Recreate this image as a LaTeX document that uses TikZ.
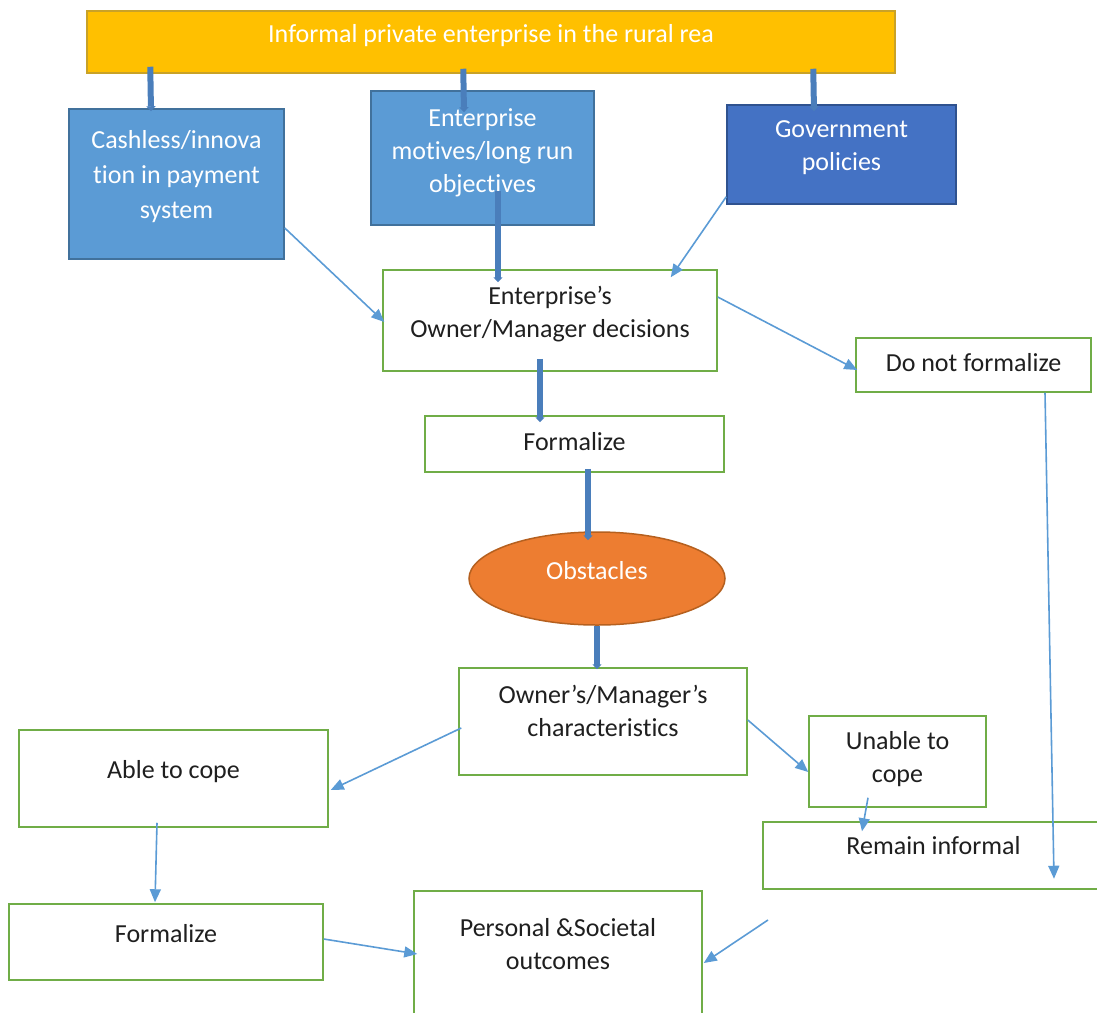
\documentclass[tikz,border=0pt]{standalone}
\usepackage{fontspec}
\setmainfont{Carlito}[Ligatures=NoCommon]
\usetikzlibrary{arrows.meta,shapes.geometric}

\definecolor{gold}{HTML}{FFC000}
\definecolor{goldline}{HTML}{C9A227}
\definecolor{skyblue}{HTML}{5B9BD5}
\definecolor{skyline}{HTML}{41719C}
\definecolor{royal}{HTML}{4472C4}
\definecolor{royalline}{HTML}{2F528F}
\definecolor{leaf}{HTML}{70AD47}
\definecolor{pumpkin}{HTML}{ED7D31}
\definecolor{pumpkinline}{HTML}{B5601F}
\definecolor{barblue}{HTML}{4A7EBB}
\definecolor{ink}{HTML}{1F1F1F}

\tikzset{
  greenbox/.style={draw=leaf, line width=1.5pt, fill=white, text=ink, align=center, inner sep=0pt},
  bluebox/.style={draw=skyline, line width=1.5pt, fill=skyblue, text=white, align=center, inner sep=0pt},
  lift/.style={text depth=#1},
  bar/.style={barblue, line width=6pt, -{Triangle[length=5pt,width=9pt]}},
  link/.style={skyblue, line width=1.6pt, -{Triangle[length=13pt,width=11pt]}},
}

\begin{document}
\begin{tikzpicture}[x=1pt, y=-1pt, font=\fontsize{26}{33}\selectfont]
\useasboundingbox (0,0) rectangle (1097,1012);

% top row
\node[draw=goldline, line width=1.5pt, fill=gold, text=white, inner sep=0pt, lift=17pt,
  minimum width=808pt, minimum height=62pt] (rural) at (491,42) {Informal private enterprise in the rural rea};

\node[bluebox, lift=19pt, minimum width=215pt, minimum height=150pt] (cashless) at (176.5,184) {Cashless/innova\\[2pt]tion in payment\\[2pt]system};
\node[bluebox, lift=15pt, minimum width=223pt, minimum height=134pt] (motives) at (482.5,158) {Enterprise\\motives/long run\\objectives};
\node[bluebox, lift=17pt, draw=royalline, fill=royal, minimum width=229pt, minimum height=99pt] (govt) at (841.5,154.5) {Government\\policies};

% decisions
\node[greenbox, lift=18pt, minimum width=334pt, minimum height=101pt] (decide) at (550,320.5) {Enterprise’s\\Owner/Manager decisions};
\node[greenbox, lift=6pt, minimum width=235pt, minimum height=54pt] (noformal) at (973.5,365) {Do not formalize};
\node[greenbox, lift=6pt, minimum width=299pt, minimum height=56pt] (formal) at (574.5,444) {Formalize};

\node[ellipse, draw=pumpkinline, line width=1.5pt, fill=pumpkin, text=white, inner sep=0pt, lift=16pt,
  minimum width=256pt, minimum height=93pt] (obstacles) at (597,578.5) {Obstacles};

% coping
\node[greenbox, lift=21pt, minimum width=288pt, minimum height=107pt] (traits) at (603,721.5) {Owner’s/Manager’s\\characteristics};
\node[greenbox, lift=19pt, minimum width=309pt, minimum height=97pt] (cope) at (173.5,778.5) {Able to cope};
\node[greenbox, lift=10pt, minimum width=177pt, minimum height=91pt] (nocope) at (897.5,761.5) {Unable to\\cope};
\node[greenbox, lift=20pt, minimum width=341pt, minimum height=67pt] (informal) at (933.5,855.5) {Remain informal};
\node[greenbox, lift=18pt, minimum width=314pt, minimum height=76pt] (formal2) at (166,942) {Formalize};
\node[greenbox, lift=34pt, minimum width=288pt, minimum height=139pt] (outcome) at (558,960.5) {Personal \&Societal\\outcomes};

% thick bars
\draw[bar] ([xshift=64pt,yshift=7pt]rural.south west) -- ([xshift=-25.5pt,yshift=-3pt]cashless.north);
\draw[bar] ([xshift=377pt,yshift=5pt]rural.south west) -- ([xshift=-18.5pt,yshift=-22pt]motives.north);
\draw[bar] ([xshift=727pt,yshift=5pt]rural.south west) -- ([xshift=-27.5pt,yshift=-7pt]govt.north);
\draw[bar] ([xshift=15.5pt,yshift=35pt]motives.south) -- ([xshift=-52pt,yshift=-13pt]decide.north);
\draw[bar] ([xshift=-10pt,yshift=13pt]decide.south) -- ([xshift=-34.5pt,yshift=-7pt]formal.north);
\draw[bar] ([xshift=13.5pt,yshift=4pt]formal.south) -- ([xshift=-9pt,yshift=-9pt]obstacles.north);
\draw[bar] (obstacles.south) -- ([xshift=-6pt,yshift=-2pt]traits.north);

% thin arrows
\coordinate (loose) at (768,920);
\draw[link] ([yshift=-44pt]cashless.east) -- ([xshift=2pt,yshift=-1.5pt]decide.west);
\draw[link] ([yshift=8pt]govt.south west) -- ([xshift=-47pt,yshift=-8pt]decide.north east);
\draw[link] ([yshift=23.5pt]decide.east) -- ([xshift=2pt,yshift=-5pt]noformal.west);
\draw[link] ([xshift=71.5pt]noformal.south) -- ([xshift=120.5pt,yshift=11pt]informal.south);
\draw[link] ([xshift=3pt,yshift=-6.5pt]traits.west) -- ([xshift=2pt,yshift=-11.5pt]cope.east);
\draw[link] ([yshift=1.5pt]traits.east) -- ([yshift=-10.5pt]nocope.west);
\draw[link] ([xshift=-29.5pt,yshift=10pt]nocope.south) -- ([xshift=-71.5pt,yshift=-10pt]informal.north);
\draw[link] ([xshift=-16.5pt,yshift=5pt]cope.south) -- ([xshift=-11pt,yshift=1pt]formal2.north);
\draw[link] ([yshift=3pt]formal2.east) -- ([xshift=4pt,yshift=6.5pt]outcome.west);
\draw[link] (loose) -- ([xshift=1pt,yshift=-2.5pt]outcome.east);
\end{tikzpicture}
\end{document}
